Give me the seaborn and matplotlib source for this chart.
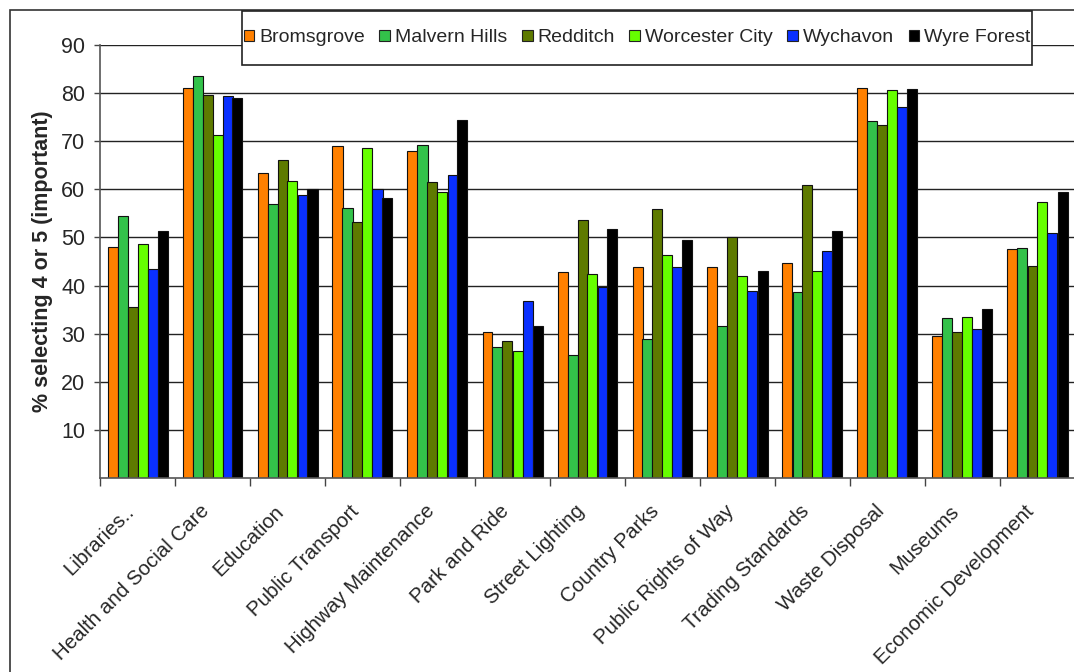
import numpy as np
import pandas as pd
import matplotlib
matplotlib.use('Agg')
import matplotlib.pyplot as plt
import matplotlib.transforms as mtransforms
import seaborn as sns
from matplotlib.patches import Rectangle

services = ['Libraries..', 'Health and Social Care', 'Education', 'Public Transport',
            'Highway Maintenance', 'Park and Ride', 'Street Lighting', 'Country Parks',
            'Public Rights of Way', 'Trading Standards', 'Waste Disposal', 'Museums',
            'Economic Development']
districts = ['Bromsgrove', 'Malvern Hills', 'Redditch', 'Worcester City', 'Wychavon', 'Wyre Forest']

bromsgrove = [48.0, 81.0, 63.4, 69.0, 67.9, 30.3, 42.9, 43.9, 43.9, 44.6, 81.0, 29.6, 47.5]
malvern = [54.5, 83.5, 56.9, 56.2, 69.2, 27.2, 25.5, 28.8, 31.6, 38.6, 74.3, 33.2, 47.8]
redditch = [35.5, 79.7, 66.0, 53.2, 61.5, 28.4, 53.6, 56.0, 50.0, 60.8, 73.3, 30.3, 44.1]
worcester = [48.7, 71.3, 61.8, 68.5, 59.4, 26.4, 42.3, 46.3, 41.9, 43.0, 80.7, 33.5, 57.3]
wychavon = [43.5, 79.4, 58.8, 60.0, 62.9, 36.7, 39.8, 43.8, 38.8, 47.1, 77.2, 30.9, 51.0]
wyre = [51.3, 79.0, 60.0, 58.2, 74.4, 31.6, 51.7, 49.5, 43.1, 51.3, 80.8, 35.2, 59.5]

colors = ['#FF8000', '#33C24A', '#5E7A00', '#66FF00', '#0A30FF', '#000000']

rows = []
for d, vals in zip(districts, [bromsgrove, malvern, redditch, worcester, wychavon, wyre]):
    for s, v in zip(services, vals):
        rows.append({'service': s, 'district': d, 'value': v})
df = pd.DataFrame(rows)

sns.set_style('white')
plt.rcParams['font.family'] = ['Liberation Sans', 'DejaVu Sans']

fig = plt.figure(figsize=(10.74, 6.72), dpi=100)
W, H = 1074, 672
ax = fig.add_axes([100 / W, 1 - 478 / H, 975 / W, (478 - 45) / H])

sns.barplot(data=df, x='service', y='value', hue='district', palette=colors,
            width=0.8, edgecolor='#111111', linewidth=0.8, saturation=1, ax=ax,
            errorbar=None, legend=False)

ax.set_ylim(0, 90)
ax.set_xlim(-0.5, len(services) - 0.5)
ax.set_yticks(np.arange(10, 91, 10))
ax.tick_params(axis='y', labelsize=15.5, length=4, width=1, color='#444444',
               direction='out', left=True, pad=6.5)
ax.yaxis.grid(True, color='#222222', linewidth=1)
ax.set_axisbelow(True)

# labels at centres, tick marks at category boundaries
ax.set_xticks(np.arange(len(services)))
ax.set_xticklabels(services, rotation=45, ha='right', rotation_mode='anchor', fontsize=14.8)
ax.tick_params(axis='x', which='major', length=0, pad=17)
shift = mtransforms.ScaledTranslation(-13 / 100, 0, fig.dpi_scale_trans)
for lab in ax.get_xticklabels():
    lab.set_transform(lab.get_transform() + shift)
ax.set_xticks(np.arange(len(services) + 1) - 0.5, minor=True)
ax.tick_params(axis='x', which='minor', length=6, width=1, color='#444444', bottom=True)

for side in ['top', 'right']:
    ax.spines[side].set_visible(False)
ax.spines['left'].set_color('#555555')
ax.spines['bottom'].set_color('#555555')
ax.spines['left'].set_linewidth(1.2)
ax.spines['bottom'].set_linewidth(1.2)

ax.set_xlabel('')
ax.set_ylabel('% selecting 4 or 5 (important)', fontsize=15.5, fontweight='bold', labelpad=6)

# legend box
fig.patches.append(Rectangle((242 / W, 1 - 65 / H), 790 / W, 54 / H, transform=fig.transFigure,
                             facecolor='white', edgecolor='#222222', linewidth=1.2, zorder=3))
handles = [Rectangle((0, 0), 1, 1, facecolor=c, edgecolor='#222222', linewidth=0.8) for c in colors]
leg = fig.legend(handles, districts, ncol=6, loc='center',
                 bbox_to_anchor=((242 + 395) / W, 1 - 38 / H), fontsize=14,
                 frameon=False, handlelength=0.55, handleheight=0.55,
                 handletextpad=0.25, columnspacing=0.75, borderpad=0, borderaxespad=0)
leg.set_zorder(4)

# outer chart border
fig.patches.append(Rectangle((10 / W, -0.05), 1.1, 1 - 10 / H + 0.05, transform=fig.transFigure,
                             fill=False, edgecolor='#333333', linewidth=1.2))

fig.savefig('out.png', dpi=100)
